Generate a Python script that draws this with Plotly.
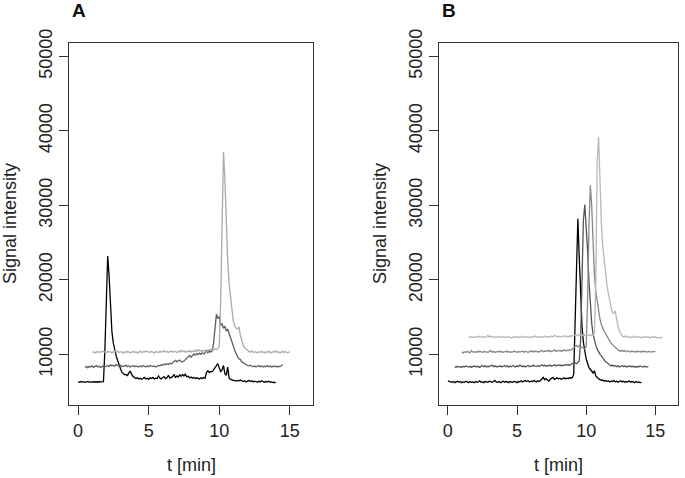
import numpy as np
import plotly.graph_objects as go

# ---------------- data ----------------
step = 0.1

# Panel A
a1_start = 0.0
a1_vals = [6300,6250,6350,6280,6330,6240,6310,6360,6270,6300,6230,6340,6290,6320,6260,6350,6300,6280,6330,
           10500,17500,23200,20500,16000,13000,11500,10500,9800,9200,8500,8100,7600,
           7400,7250,7300,7150,7500,7750,7300,7000,6900,6750,6850,6700,6800,6650,6750,6900,6700,6800,
           6650,6850,6750,6900,6700,6800,6750,7100,6800,6700,6900,7000,6750,6850,7200,6800,6900,7000,
           7300,6900,7100,6950,7250,7050,7300,7100,7350,7000,7050,6850,6950,6800,6900,6750,6850,6800,
           6700,6850,6750,6900,6800,7600,7800,7550,7700,7650,7900,8100,8400,8750,8200,7700,7900,8500,
           7400,7200,8300,6800,6650,6600,6500,6550,6400,6500,6450,6550,6400,6350,6450,6300,6400,6500,
           6350,6450,6300,6400,6350,6250,6400,6300,6450,6350,6250,6350,6300,6400,6250,6300,6200,6250,6200]

a2_start = 0.5
a2_vals = [8250,8350,8200,8400,8300,8450,8250,8350,8500,8300,8400,8250,8350,8450,8300,8400,8500,8350,
           8600,8450,8550,8400,8650,8500,8400,8550,8350,8450,8400,8550,8350,8450,8300,8400,8500,8350,
           8450,8400,8300,8450,8350,8500,8400,8300,8450,8350,8500,8400,8350,8450,8300,8400,8500,8450,
           8600,8550,8700,8600,8750,8650,8800,8700,8950,9050,9200,9000,9150,9250,9050,9000,9100,9300,
           9550,9750,9850,9600,9800,10050,9900,10100,9950,10150,10000,10200,10050,10250,10400,10200,
           10450,10300,10500,11500,13800,15400,14800,15100,13900,14100,13500,13800,13100,13400,12800,
           12300,11700,11100,10500,10000,9700,9400,9300,9000,8850,8700,8600,8500,8450,8550,8400,8350,
           8450,8300,8400,8500,8350,8450,8300,8400,8350,8500,8350,8450,8300,8400,8350,8450,8300,8400,
           8350,8500,8650]

a3_start = 1.0
a3_vals = [10250,10350,10200,10300,10400,10250,10350,10300,10450,10300,10250,10400,10300,10350,10200,
           10350,10450,10300,10400,10250,10350,10300,10200,10350,10250,10400,10300,10200,10300,10400,
           10250,10350,10200,10300,10400,10250,10350,10300,10450,10300,10350,10250,10400,10300,10200,
           10350,10300,10250,10400,10300,10350,10500,10300,10400,10250,10350,10450,10300,10400,10350,
           10250,10400,10300,10550,10350,10450,10300,10400,10350,10500,10300,10450,10350,10550,10400,
           10650,10450,10500,10400,10550,10450,10600,10500,10650,10550,10700,10600,10750,10650,10800,
           11000,17000,30000,37200,33500,27000,22500,19500,17500,15600,14400,13800,13500,13400,13700,
           12500,11800,11200,10900,10700,10500,10400,10300,10450,10250,10350,10300,10200,10350,10250,
           10400,10300,10200,10350,10250,10400,10300,10200,10350,10300,10450,10250,10350,10200,10300,
           10400,10250,10350,10200,10300,10350]

# Panel B
b1_start = 0.0
b1_vals = [6450,6350,6300,6250,6350,6200,6300,6400,6250,6350,6200,6300,6250,6400,6300,6200,6350,6250,
           6300,6200,6350,6250,6300,6450,6250,6300,6200,6350,6300,6250,6400,6300,6250,6350,6500,6300,
           6250,6350,6200,6300,6400,6250,6350,6300,6200,6350,6300,6250,6400,6300,6200,6350,6300,6450,
           6300,6400,6500,6350,6450,6300,6400,6350,6500,6400,6300,6450,6350,6500,6750,6900,6600,6750,
           6550,6400,6650,6800,6900,6650,6750,6850,6700,6800,6650,6750,6850,6700,6800,6750,6850,6800,
           6900,7300,14000,24000,28200,23000,17500,13800,11600,10300,9400,8800,8200,8000,7700,7500,
           7800,7100,6900,6700,6600,6500,6550,6400,6500,6350,6450,6300,6400,6350,6500,6300,6400,6250,
           6350,6450,6300,6400,6250,6350,6300,6450,6250,6350,6300,6200,6350,6250,6300,6200,6250]

b2_start = 0.5
b2_vals = [8350,8250,8400,8300,8350,8250,8400,8300,8450,8350,8300,8400,8250,8350,8450,8300,8400,8350,
           8250,8400,8500,8350,8450,8300,8400,8350,8450,8550,8350,8450,8300,8400,8350,8450,8300,8400,
           8500,8350,8450,8300,8400,8350,8500,8400,8300,8450,8350,8550,8400,8350,8450,8300,8400,8500,
           8350,8450,8400,8550,8400,8350,8500,8400,8450,8600,8450,8550,8400,8500,8450,8550,8400,8500,
           8600,8450,8550,8500,8600,8450,8550,8500,8650,8550,8600,8500,8650,8800,8700,8850,8750,8900,
           9100,12000,20000,28000,30100,27500,24000,20000,16500,14200,12700,11800,11200,10700,10300,
           10000,9800,9500,9300,9000,8900,8750,8600,8450,8550,8400,8500,8350,8450,8300,8400,8500,8350,
           8450,8300,8400,8350,8450,8300,8400,8350,8250,8400,8300,8450,8350,8300,8400,8350,8300,8400]

b3_start = 1.0
b3_vals = [10300,10200,10350,10250,10400,10300,10200,10500,10300,10350,10250,10400,10300,10450,10300,
           10250,10400,10300,10350,10250,10400,10500,10300,10400,10250,10350,10300,10450,10300,10400,
           10250,10350,10450,10300,10400,10250,10350,10300,10450,10350,10250,10400,10300,10350,10450,
           10300,10400,10350,10250,10400,10350,10500,10300,10450,10350,10400,10300,10450,10550,10350,
           10450,10400,10550,10400,10500,10350,10450,10600,10400,10500,10450,10550,10400,10500,10600,
           10450,10550,10500,10650,10550,10700,10900,11050,11200,11000,11150,11000,10900,10800,10750,
           11000,17000,27000,32700,30000,24500,20500,18400,17000,15600,14700,14000,13500,13100,12800,
           12400,12100,11800,11500,11300,11100,10900,10800,10600,10500,10400,10550,10400,10500,10350,
           10450,10400,10300,10450,10350,10400,10300,10450,10350,10400,10300,10450,10350,10400,10300,
           10400,10350,10300,10400,10350,10450]

b4_start = 1.5
b4_vals = [12350,12250,12400,12300,12350,12250,12400,12300,12450,12300,12250,12400,12300,12350,12550,
           12300,12450,12300,12400,12250,12350,12300,12450,12300,12250,12400,12300,12350,12250,12400,
           12300,12200,12350,12250,12400,12300,12350,12250,12450,12300,12350,12250,12400,12300,12350,
           12250,12400,12300,12450,12350,12300,12400,12250,12350,12300,12450,12350,12300,12400,12300,
           12450,12350,12550,12400,12350,12450,12300,12400,12350,12500,12400,12450,12350,12500,12400,
           12550,12450,12600,12500,12650,12550,12600,12500,12700,12550,12650,12600,12550,12650,12500,
           12600,12800,20000,36000,39200,32000,27500,24500,22500,20800,19400,18200,17100,16400,15600,
           15500,15800,14500,13800,13200,12800,12500,12350,12450,12300,12400,12250,12350,12300,12450,
           12300,12250,12400,12300,12350,12200,12350,12300,12400,12250,12350,12200,12300,12400,12250,
           12350,12200,12300,12150,12300,12350]

panel_a = [(a1_start, a1_vals, "#000000"), (a2_start, a2_vals, "#5e5e5e"), (a3_start, a3_vals, "#ababab")]
panel_b = [(b1_start, b1_vals, "#000000"), (b2_start, b2_vals, "#555555"),
           (b3_start, b3_vals, "#888888"), (b4_start, b4_vals, "#b8b8b8")]

x_ticks = [0, 5, 10, 15]
y_ticks = [10000, 20000, 30000, 40000, 50000]

# ---------------- figure ----------------
W, H = 685, 478
fig = go.Figure()

for (start, vals, col) in panel_a:
    t = start + step * np.arange(len(vals))
    fig.add_trace(go.Scatter(x=t, y=vals, mode="lines", line=dict(color=col, width=1.3),
                             xaxis="x", yaxis="y", showlegend=False, hoverinfo="skip"))
for (start, vals, col) in panel_b:
    t = start + step * np.arange(len(vals))
    fig.add_trace(go.Scatter(x=t, y=vals, mode="lines", line=dict(color=col, width=1.3),
                             xaxis="x2", yaxis="y2", showlegend=False, hoverinfo="skip"))

FONT = "Liberation Sans, Arial, sans-serif"
frame = "#333333"

def xax(domain, anchor):
    return dict(domain=domain, anchor=anchor, range=[-0.64, 16.64], tickvals=x_ticks,
                ticks="outside", ticklen=9, tickwidth=1, tickcolor=frame, automargin=False,
                showline=True, mirror=True, linecolor=frame, linewidth=1,
                showgrid=False, zeroline=False, tickfont=dict(size=18, color="#222222", family=FONT))

def yax(domain, anchor):
    return dict(domain=domain, anchor=anchor, range=[3200, 51800], tickvals=y_ticks,
                ticktext=[str(v) for v in y_ticks], tickangle=-90, automargin=False,
                ticks="outside", ticklen=9, tickwidth=1, tickcolor=frame,
                showline=True, mirror=True, linecolor=frame, linewidth=1,
                showgrid=False, zeroline=False, tickfont=dict(size=18, color="#222222", family=FONT))

ydom = [1 - 405 / H, 1 - 43 / H]
fig.update_layout(
    width=W, height=H, autosize=False,
    margin=dict(l=0, r=0, t=0, b=0, autoexpand=False),
    paper_bgcolor="white", plot_bgcolor="white",
    xaxis=xax([69 / W, 313 / W], "y"),
    yaxis=yax(ydom, "x"),
    xaxis2=xax([439 / W, 678 / W], "y2"),
    yaxis2=yax(ydom, "x2"),
    font=dict(family=FONT, color="#222222"),
)

ann = []
for (cx, tx, lab, ylx) in [(191, 70, "A", 10), (558, 440, "B", 380)]:
    ann.append(dict(x=cx / W, y=1 - 465 / H, xref="paper", yref="paper", text="t [min]",
                    showarrow=False, font=dict(size=18, family=FONT, color="#222222"),
                    xanchor="center", yanchor="middle"))
    ann.append(dict(x=ylx / W, y=1 - 224 / H, xref="paper", yref="paper", text="Signal intensity",
                    textangle=-90, showarrow=False, font=dict(size=18, family=FONT, color="#222222"),
                    xanchor="center", yanchor="middle"))
    ann.append(dict(x=tx / W, y=1 - 11 / H, xref="paper", yref="paper", text="<b>" + lab + "</b>",
                    showarrow=False, font=dict(size=19, family=FONT, color="#111111"),
                    xanchor="left", yanchor="middle"))
fig.update_layout(annotations=ann)

fig.write_html("out.html", config={"responsive": False, "displayModeBar": False},
               post_script="document.body.style.margin='0';document.body.style.padding='0';")
